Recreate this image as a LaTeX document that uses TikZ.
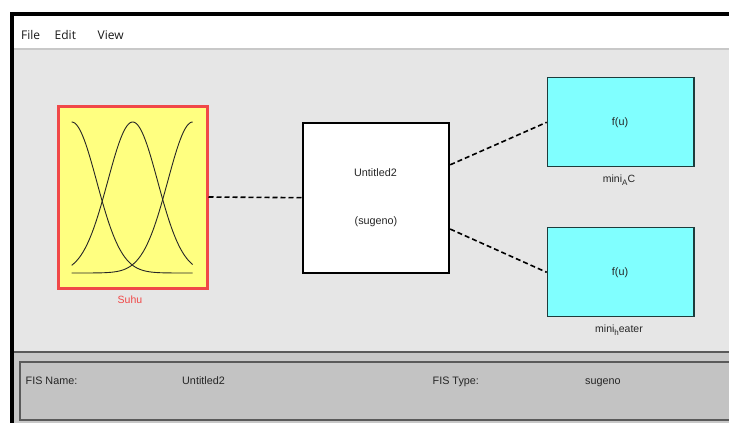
\documentclass[tikz,border=0pt]{standalone}
\usepackage{fontspec}
\setmainfont{Liberation Sans}
\newfontfamily\menufont{Open Sans}
\definecolor{panelgray}{HTML}{E6E6E6}
\definecolor{sepgray}{HTML}{C8C8C8}
\definecolor{lowgray}{HTML}{C8C8C8}
\definecolor{innergray}{HTML}{C3C3C3}
\definecolor{darkline}{HTML}{5A5A5A}
\definecolor{suhured}{HTML}{F04848}
\definecolor{suhuyellow}{HTML}{FFFF80}
\definecolor{cyanfill}{HTML}{80FFFF}
\definecolor{cyanedge}{HTML}{1E3C3C}
\definecolor{labelgray}{HTML}{262626}
\begin{document}
\begin{tikzpicture}[x=1pt,y=-1pt,
  every node/.style={font=\fontsize{10.8}{12}\selectfont, text=labelgray},
  inbox/.style={draw=suhured, line width=3pt, fill=suhuyellow, minimum width=149pt, minimum height=182pt, inner sep=0pt},
  fisbox/.style={draw=black, line width=1.8pt, fill=white, minimum width=146pt, minimum height=150pt, inner sep=0pt},
  outbox/.style={draw=cyanedge, line width=1.3pt, fill=cyanfill, minimum width=146.7pt, minimum height=89pt, inner sep=0pt},
  conn/.style={draw=black, line width=1.6pt, dash pattern=on 5pt off 3pt},
  mf/.style={draw=black!85, line width=0.9pt},
  menuitem/.style={font=\menufont\fontsize{12}{14}\selectfont, text=black!90, anchor=base west, inner sep=0pt},
  infolabel/.style={anchor=base west, inner sep=0pt, text=labelgray}]
\clip (0,0) rectangle (729,423);
% window background
\fill[white] (0,0) rectangle (729,423);
\fill[panelgray] (12,48) rectangle (729,352);
\draw[sepgray, line width=2pt] (12,49) -- (729,49);
\fill[lowgray] (12,352) rectangle (729,423);
\draw[darkline, line width=1.5pt] (12,352) -- (729,352);
\draw[darkline, line width=1.5pt, fill=innergray] (20,362) rectangle (740,420);
\draw[black, line width=4pt] (12,425) -- (12,14) -- (731,14);
% menu
\node[menuitem] (file) at (21,39.5) {File};
\node[menuitem] (edit) at (54.5,39.5) {Edit};
\node[menuitem] (view) at (97.5,39.5) {View};
% input block
\node[inbox] (suhu) at (132.5,197) {};
\node[text=suhured, font=\fontsize{10.5}{12}\selectfont] (suhulab) at (130,300) {Suhu};
\draw[mf] plot[domain=71.7:192.7, samples=80, smooth] (\x, {273-151*exp(-((\x-71.7)^2)/1250)});
\draw[mf] plot[domain=71.7:192.7, samples=80, smooth] (\x, {273-151*exp(-((\x-132.7)^2)/1250)});
\draw[mf] plot[domain=71.7:192.7, samples=80, smooth] (\x, {273-151*exp(-((\x-192.7)^2)/1250)});
% FIS block
\node[fisbox] (fis) at (376.3,197.7) {};
\node (fisname) at (375.5,173) {Untitled2};
\node (fistype) at (376,221.7) {(sugeno)};
% output blocks
\node[outbox] (out1) at (620.7,122.3) {};
\node (f1) at (620,122.3) {f(u)};
\node[font=\fontsize{10.5}{12}\selectfont] (out1lab) at (619,180) {mini\raisebox{-0.5ex}{\fontsize{8}{9}\selectfont A}C};
\node[outbox] (out2) at (620.7,272.3) {};
\node (f2) at (620,272.7) {f(u)};
\node[font=\fontsize{10.5}{12}\selectfont] (out2lab) at (619,330) {mini\raisebox{-0.5ex}{\fontsize{8}{9}\selectfont h}eater};
% connectors
\draw[conn] (suhu.east) -- (fis.west);
\draw[conn] (fis.24.6) -- (out1.west);
\draw[conn] (fis.-23.9) -- (out2.west);
% info panel
\node[infolabel] (fisnamelab) at (25.5,384) {FIS Name:};
\node[infolabel] (fisnameval) at (182,384) {Untitled2};
\node[infolabel] (fistypelab) at (432.5,384) {FIS Type:};
\node[infolabel] (fistypeval) at (585,384) {sugeno};
\end{tikzpicture}
\end{document}
